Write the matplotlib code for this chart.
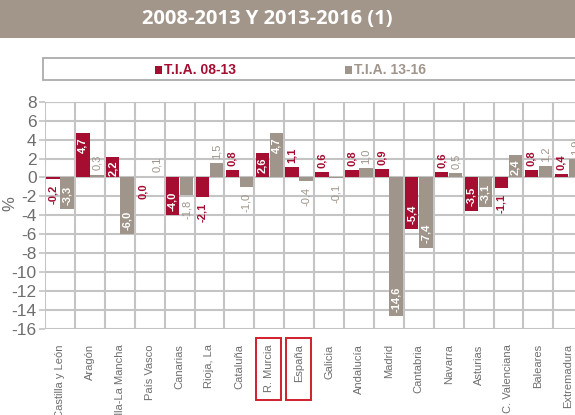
import numpy as np
import matplotlib
matplotlib.use("Agg")
import matplotlib.pyplot as plt
from matplotlib.patches import Rectangle
import matplotlib.transforms as mtransforms

# Datos del grafico
regiones = ["Castilla y León", "Aragón", "Castilla-La Mancha", "País Vasco", "Canarias",
            "Rioja, La", "Cataluña", "R. Murcia", "España", "Galicia", "Andalucía",
            "Madrid", "Cantabria", "Navarra", "Asturias", "C. Valenciana", "Baleares",
            "Extremadura"]
tia_08_13 = [-0.2, 4.7, 2.2, 0.0, -4.0, -2.1, 0.8, 2.6, 1.1, 0.6, 0.8, 0.9, -5.4, 0.6,
             -3.5, -1.1, 0.8, 0.4]
tia_13_16 = [-3.3, 0.3, -6.0, 0.1, -1.8, 1.5, -1.0, 4.7, -0.4, -0.1, 1.0, -14.6, -7.4,
             0.5, -3.1, 2.4, 1.2, 1.9]
yticks = list(range(-16, 9, 2))
resaltadas = ["R. Murcia", "España"]

ROJO = "#A50D31"
GRIS = "#A0958A"
GRID = "#C4C4C4"
TEXTO = "#6E6E6E"

plt.rcParams['font.family'] = ['Liberation Sans', 'DejaVu Sans']

fig = plt.figure(figsize=(5.75, 4.15), dpi=100)

# banda del titulo
fig.patches.append(Rectangle((0, 0.908), 1, 0.092, transform=fig.transFigure,
                             facecolor="#A29589", edgecolor="none", zorder=0))
fig.text(0.465, 0.955, "2008-2013 Y 2013-2016 (1)", color="white", fontsize=14.5,
         fontweight="bold", family=["Open Sans", "DejaVu Sans"], ha="center", va="center")

# caja de la leyenda
fig.patches.append(Rectangle((0.075, 0.807), 1.0, 0.053, transform=fig.transFigure,
                             facecolor="white", edgecolor="#ABABAB", lw=1.3, zorder=1))
fig.patches.append(Rectangle((0.27, 0.822), 0.012, 0.018, transform=fig.transFigure,
                             facecolor=ROJO, edgecolor="none", zorder=2))
fig.text(0.285, 0.832, "T.I.A. 08-13", color=ROJO, fontsize=10, fontweight="bold",
         ha="left", va="center")
fig.patches.append(Rectangle((0.6, 0.822), 0.012, 0.018, transform=fig.transFigure,
                             facecolor=GRIS, edgecolor="none", zorder=2))
fig.text(0.615, 0.832, "T.I.A. 13-16", color=GRIS, fontsize=10, fontweight="bold",
         ha="left", va="center")

ax = fig.add_axes([0.0783, 0.207, 0.936, 0.548])
x = np.arange(len(regiones))
w = 0.45
ax.bar(x - w / 2 - 0.01, tia_08_13, w, color=ROJO, zorder=3)
ax.bar(x + w / 2 + 0.01, tia_13_16, w, color=GRIS, zorder=3)

ax.set_xlim(-0.5, len(regiones) - 0.5)
ax.set_ylim(-16, 8)
ax.set_yticks(yticks)
ax.set_yticklabels([str(t) for t in yticks], fontsize=12.5, color=TEXTO)
ax.set_xticks(np.arange(len(regiones) + 1) - 0.5, minor=True)
ax.set_xticks(x)
ax.set_xticklabels(regiones, rotation=90, fontsize=8, color=TEXTO)
ax.tick_params(axis="x", which="major", length=0, pad=11)
ax.tick_params(axis="x", which="minor", length=0)
ax.tick_params(axis="y", length=4, color=GRID, width=1.2, pad=2)
ax.grid(True, axis="y", color=GRID, lw=1.5, zorder=0)
ax.grid(True, axis="x", which="minor", color=GRID, lw=1.5, zorder=0)
for s in ax.spines.values():
    s.set_visible(False)
ax.axhline(8, color=GRID, lw=1.5, zorder=0)
ax.set_ylabel("%", fontsize=12, color=TEXTO)
ax.yaxis.set_label_coords(-0.052, 0.55)

# etiquetas de valor
def etiquetas(valores, xs, color, negrita_fuera):
    for xi, v in zip(xs, valores):
        txt = f"{v:.1f}".replace(".", ",")
        if abs(v) >= 2.15:
            if v > 0:
                ax.annotate(txt, (xi, v), xytext=(0, -3), textcoords="offset points",
                            rotation=90, ha="center", va="top", color="white",
                            fontsize=8, fontweight="bold", zorder=4)
            else:
                ax.annotate(txt, (xi, v), xytext=(0, 3), textcoords="offset points",
                            rotation=90, ha="center", va="bottom", color="white",
                            fontsize=8, fontweight="bold", zorder=4)
        else:
            peso = "bold" if negrita_fuera else "normal"
            if v > 0:
                ax.annotate(txt, (xi, v), xytext=(0, 3), textcoords="offset points",
                            rotation=90, ha="center", va="bottom", color=color,
                            fontsize=8, fontweight=peso, zorder=4)
            else:
                ax.annotate(txt, (xi, min(v, 0)), xytext=(0, -4), textcoords="offset points",
                            rotation=90, ha="center", va="top", color=color,
                            fontsize=8, fontweight=peso, zorder=4)

etiquetas(tia_08_13, x - w / 2 - 0.01, ROJO, True)
etiquetas(tia_13_16, x + w / 2 + 0.01, GRIS, False)

# recuadros rojos en R. Murcia y España
trans = mtransforms.blended_transform_factory(ax.transData, ax.transAxes)
for nombre in resaltadas:
    i = regiones.index(nombre)
    ax.add_patch(Rectangle((i - 0.45, -0.312), 0.83, 0.272, transform=trans,
                           facecolor="none", edgecolor="#D0202A", lw=1.4, clip_on=False))

fig.savefig("out.png", dpi=100)
